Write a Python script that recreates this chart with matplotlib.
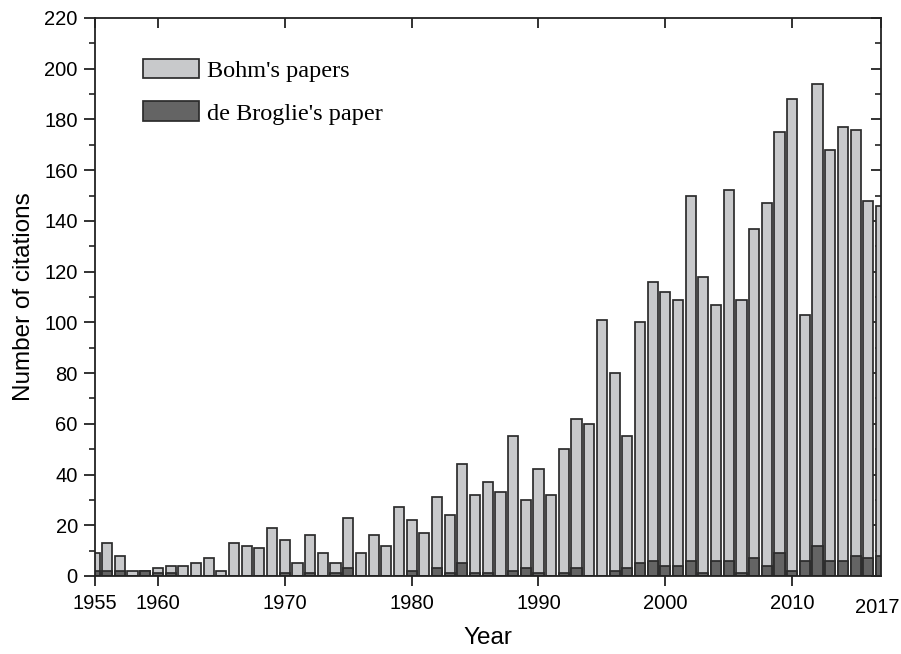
import numpy as np
import matplotlib
matplotlib.use("Agg")
from matplotlib import pyplot as plt
from matplotlib.ticker import MultipleLocator
from matplotlib.transforms import ScaledTranslation, blended_transform_factory

# citations per year
years = list(range(1955, 2018))
bohm = [9, 13, 8, 2, 2, 3, 4, 4, 5, 7,
        2, 13, 12, 11, 19, 14, 5, 16, 9, 5,
        23, 9, 16, 12, 27, 22, 17, 31, 24, 44,
        32, 37, 33, 55, 30, 42, 32, 50, 62, 60,
        101, 80, 55, 100, 116, 112, 109, 150, 118, 107,
        152, 109, 137, 147, 175, 188, 103, 194, 168, 177,
        176, 148, 146]
debroglie = [2, 2, 2, 0, 2, 1, 1, 0, 0, 0,
             0, 0, 0, 0, 0, 1, 0, 1, 0, 1,
             3, 0, 0, 0, 0, 2, 0, 3, 1, 5,
             1, 1, 0, 2, 3, 1, 0, 1, 3, 0,
             0, 2, 3, 5, 6, 4, 4, 6, 1, 6,
             6, 1, 7, 4, 9, 2, 6, 12, 6, 6,
             8, 7, 8]
xticks = [1955, 1960, 1970, 1980, 1990, 2000, 2010, 2017]

plt.rcParams['font.family'] = ['Liberation Sans', 'DejaVu Sans']

fig = plt.figure(figsize=(9.01, 6.54), dpi=100)
ax = fig.add_axes([0.1049, 0.1193, 0.8729, 0.8532])

edge = '#2b2b2b'
ax.bar(years, bohm, width=0.8, color='#c8c9cb', edgecolor=edge, linewidth=1.25,
       label="Bohm's papers", zorder=2)
ax.bar(years, debroglie, width=0.8, color='#646464', edgecolor=edge, linewidth=1.25,
       label="de Broglie's paper", zorder=3)

ax.set_xlim(1955, 2017)
ax.set_ylim(0, 220)
ax.set_xticks(xticks[:-1])
ax.yaxis.set_major_locator(MultipleLocator(20))
ax.yaxis.set_minor_locator(MultipleLocator(10))

for sp in ax.spines.values():
    sp.set_linewidth(1.3)
    sp.set_color('#222222')
    sp.set_zorder(5)

ax.tick_params(axis='both', which='major', direction='out', length=8, width=1.3,
               labelsize=14.5, color='#222222')
ax.tick_params(axis='y', which='major', pad=4)
ax.tick_params(axis='x', which='major', length=7, pad=6)
ax.tick_params(axis='y', which='minor', direction='out', length=4, width=1.2, color='#222222')

# last year label: squeezed against the right edge and a little lower
trans = blended_transform_factory(ax.transData, ax.transAxes) + \
    ScaledTranslation(13 / 72, -16 / 72, fig.dpi_scale_trans)
ax.text(xticks[-1], 0, str(xticks[-1]), transform=trans, ha='right', va='top',
        fontsize=14.5)

# mirrored ticks on top and right, pointing inward
top = ax.secondary_xaxis('top')
top.set_xticks(xticks)
top.tick_params(direction='in', length=7, width=1.3, labeltop=False, color='#222222')
right = ax.secondary_yaxis('right')
right.yaxis.set_major_locator(MultipleLocator(20))
right.yaxis.set_minor_locator(MultipleLocator(10))
right.tick_params(which='major', direction='in', length=7, width=1.3, labelright=False, color='#222222')
right.tick_params(which='minor', direction='in', length=4, width=1.2, color='#222222')
for s in (top, right):
    for sp in s.spines.values():
        sp.set_visible(False)

ax.set_xlabel('Year', fontsize=17.5, labelpad=10)
ax.set_ylabel('Number of citations', fontsize=17.5, labelpad=7)

ax.legend(loc='upper left', bbox_to_anchor=(0.0617, 0.927), frameon=False,
          prop={'family': 'Liberation Serif', 'size': 17.5},
          handlelength=2.3, handleheight=0.86, handletextpad=0.35,
          labelspacing=0.8, borderpad=0, borderaxespad=0)

fig.savefig('out.png', dpi=100)
